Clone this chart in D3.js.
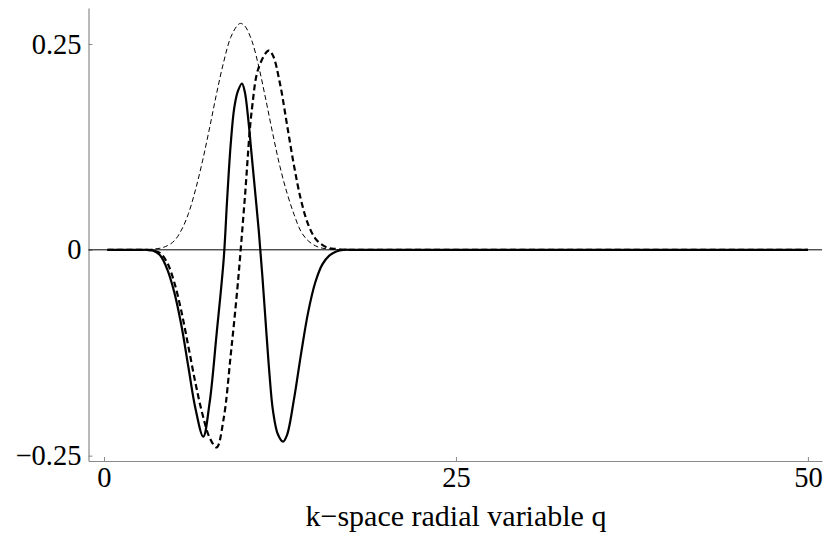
<!DOCTYPE html>
<html>
<head>
<meta charset="utf-8">
<script src="https://cdn.jsdelivr.net/npm/d3@7"></script>
<style>
    html, body { margin: 0; padding: 0; background: #fff; }
    svg { display: block; }
    svg text { font-family: "Liberation Serif", "Times New Roman", serif; fill: #000; }
</style>
</head>
<body>
<div id="chart"></div>
<script>
// Values
const qThin = [0.25, 2.5, 3, 3.5, 4, 4.5, 5, 5.5, 6, 6.5, 7, 7.5, 8, 8.5, 9, 9.5, 9.7, 10, 10.5, 11, 11.5, 12, 12.5, 13, 13.5, 14, 14.5, 15, 15.5, 16, 16.5, 17, 17.5, 18, 50];
const thinDashed = [0, 0, 0, 0.001, 0.002, 0.005, 0.011, 0.024, 0.044, 0.073, 0.108, 0.148, 0.190, 0.228, 0.258, 0.273, 0.275, 0.272, 0.254, 0.222, 0.182, 0.140, 0.101, 0.069, 0.043, 0.022, 0.011, 0.005, 0.002, 0.001, 0, 0, 0, 0, 0];

const qSolid = [0.25, 2.5, 3, 3.5, 4, 4.5, 5, 5.5, 6, 6.5, 7.05, 7.5, 8, 8.5, 8.75, 9, 9.25, 9.5, 9.8, 10, 10.25, 10.5, 10.75, 11, 11.25, 11.5, 11.75, 12, 12.35, 12.72, 13, 13.5, 14, 14.5, 15, 15.5, 16, 16.5, 17, 17.5, 18, 50];
const solid = [0, 0, 0, -0.001, -0.007, -0.024, -0.052, -0.092, -0.143, -0.193, -0.227, -0.186, -0.102, -0.012, 0.062, 0.128, 0.172, 0.192, 0.202, 0.192, 0.158, 0.113, 0.068, 0.022, -0.032, -0.092, -0.150, -0.195, -0.224, -0.233, -0.225, -0.181, -0.126, -0.076, -0.040, -0.018, -0.007, -0.002, 0, 0, 0, 0];

const qDashed = [0.25, 2.5, 3, 3.5, 4, 4.5, 5, 5.5, 6, 6.5, 7, 7.5, 8, 8.5, 9, 9.5, 10, 10.5, 11, 11.7, 12, 12.5, 13, 13.5, 14, 14.5, 15, 15.5, 16, 16.5, 17, 17.5, 18, 50];
const thickDashed = [0, 0, 0, -0.001, -0.004, -0.016, -0.040, -0.075, -0.118, -0.162, -0.200, -0.228, -0.240, -0.205, -0.128, -0.042, 0.062, 0.170, 0.222, 0.242, 0.236, 0.202, 0.152, 0.102, 0.060, 0.031, 0.014, 0.006, 0.002, 0.001, 0, 0, 0, 0];

const xTicks = [0, 25, 50];
const yTicks = [-0.25, 0, 0.25];
const xLabel = 'k\u2212space radial variable q';

(function() {
    'use strict';

    const width = 827;
    const height = 537;
    const margin = { top: 8, right: 5, bottom: 76, left: 88.5 };

    const svg = d3.select('#chart')
        .append('svg')
        .attr('width', width)
        .attr('height', height);

    // plot range goes a little past the ticks on every side
    const x = d3.scaleLinear()
        .domain([-1.1, 51])
        .range([margin.left, width - margin.right]);

    const y = d3.scaleLinear()
        .domain([-0.2565, 0.2937])
        .range([height - margin.bottom, margin.top]);

    const fmt = d => d === 0 ? '0' : (d < 0 ? '\u2212' : '') + Math.abs(d).toFixed(2);

    const xAxis = svg.append('g')
        .attr('transform', `translate(0,${height - margin.bottom})`)
        .call(d3.axisBottom(x)
            .tickValues(xTicks)
            .tickSize(-4)
            .tickSizeOuter(0)
            .tickPadding(6)
            .tickFormat(d3.format('d')));

    const yAxis = svg.append('g')
        .attr('transform', `translate(${margin.left},0)`)
        .call(d3.axisLeft(y)
            .tickValues(yTicks)
            .tickSize(-4)
            .tickSizeOuter(0)
            .tickPadding(7)
            .tickFormat(fmt));

    [xAxis, yAxis].forEach(g => {
        g.attr('font-family', null);
        g.select('.domain').attr('stroke', '#8a8a8a').attr('stroke-width', 1.2);
        g.selectAll('.tick line').attr('stroke', '#8a8a8a');
        g.selectAll('.tick text').attr('font-size', 28.5);
    });

    // zero reference line
    svg.append('line')
        .attr('x1', x(-1.1))
        .attr('x2', x(51))
        .attr('y1', y(0))
        .attr('y2', y(0))
        .attr('stroke', '#000')
        .attr('stroke-width', 1);

    const line = d3.line()
        .x(d => x(d[0]))
        .y(d => y(d[1]))
        .curve(d3.curveCatmullRom.alpha(0.5));

    const series = [
        { q: qThin, v: thinDashed, w: 1, dash: '5,3' },
        { q: qDashed, v: thickDashed, w: 2.2, dash: '6,3.5' },
        { q: qSolid, v: solid, w: 2.2, dash: null }
    ];

    series.forEach(s => {
        svg.append('path')
            .datum(d3.zip(s.q, s.v))
            .attr('fill', 'none')
            .attr('stroke', '#000')
            .attr('stroke-width', s.w)
            .attr('stroke-linejoin', 'miter')
            .attr('stroke-dasharray', s.dash)
            .attr('d', line);
    });

    svg.append('text')
        .attr('x', x(25))
        .attr('y', 526)
        .attr('text-anchor', 'middle')
        .attr('font-size', 30)
        .text(xLabel);
})();
</script>
</body>
</html>
